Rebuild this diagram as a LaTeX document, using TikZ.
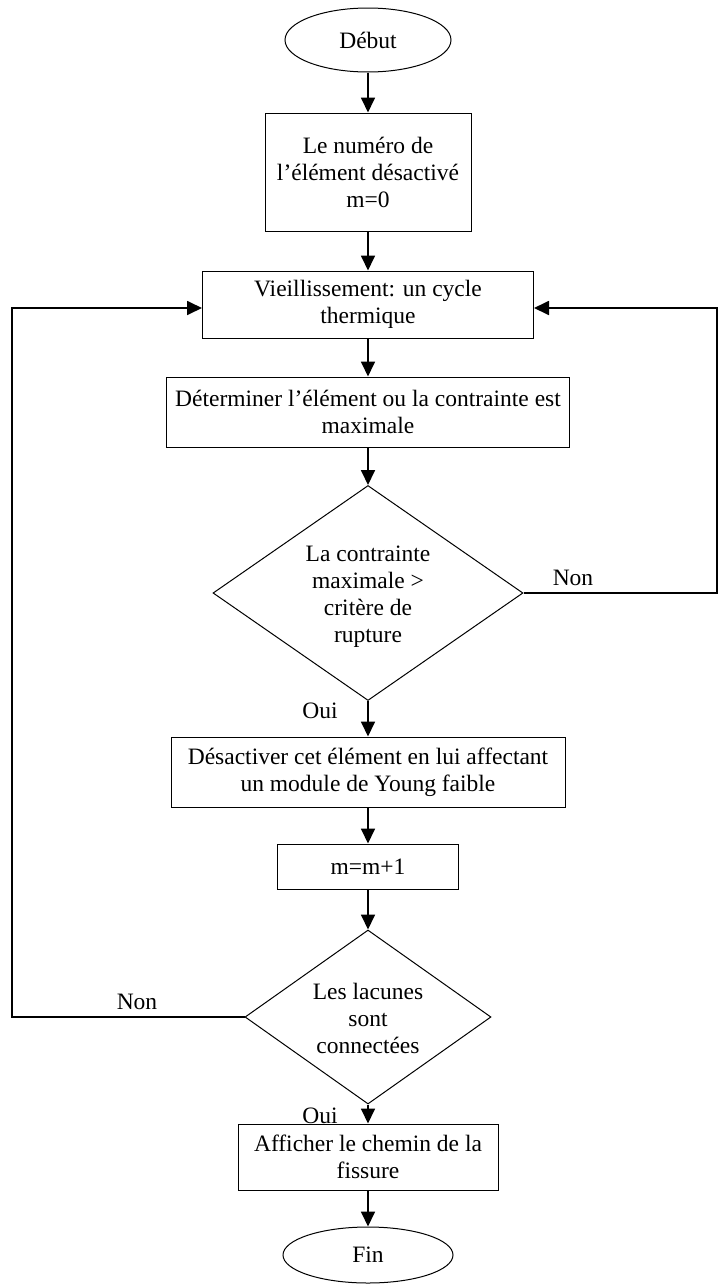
\documentclass[tikz,border=0pt]{standalone}
\usepackage{fontspec}
\setmainfont{Liberation Serif}
\usetikzlibrary{shapes.geometric,arrows.meta}
\newcommand\dtxt[1]{\makebox[0pt]{\raisebox{-10pt}[0pt][0pt]{\begin{tabular}{@{}c@{}}#1\end{tabular}}}}
\begin{document}
\begin{tikzpicture}[x=1pt,y=-1pt,font=\fontsize{23.5}{27}\selectfont,
  box/.style={draw,line width=1pt,rectangle,inner sep=0pt,align=center},
  term/.style={draw,line width=1pt,ellipse,inner sep=0pt},
  dia/.style={draw,line width=1pt,diamond,inner sep=0pt},
  conn/.style={line width=1.8pt},
  arr/.style={conn,-{Triangle[width=14pt,length=15pt]}},
  lbl/.style={inner sep=0pt}]
\useasboundingbox (0,0) rectangle (719,1285);
\node[term,minimum width=166pt,minimum height=64pt] (debut) at (368,40) {Début};
\node[box,minimum width=206pt,minimum height=118pt] (b1) at (368,172) {Le numéro de\\l’élément désactivé\\m=0};
\node[box,minimum width=331pt,minimum height=67pt] (b2) at (368,304.5) {Vieillissement: un cycle\\thermique};
\node[box,minimum width=403pt,minimum height=70pt] (b3) at (368,412) {Déterminer l’élément ou la contrainte est\\maximale};
\node[dia,minimum width=310pt,minimum height=215pt] (d1) at (368,593) {\dtxt{La contrainte\\maximale >\\critère de\\rupture}};
\node[box,minimum width=394pt,minimum height=70pt] (b4) at (368,772) {Désactiver cet élément en lui affectant\\un module de Young faible};
\node[box,minimum width=181pt,minimum height=45pt] (b5) at (368,866.5) {m=m+1};
\node[dia,minimum width=246pt,minimum height=174pt] (d2) at (368,1017) {\dtxt{Les lacunes\\sont\\connectées}};
\node[box,minimum width=260pt,minimum height=66pt] (b6) at (368,1157) {Afficher le chemin de la\\fissure};
\node[term,minimum width=170pt,minimum height=56pt] (fin) at (368,1255) {Fin};
\draw[arr] (debut.south) -- (b1.north);
\draw[arr] (b1.south) -- (b2.north);
\draw[arr] (b2.south) -- (b3.north);
\draw[arr] (b3.south) -- (d1.north);
\draw[arr] (d1.south) -- (b4.north);
\draw[arr] (b4.south) -- (b5.north);
\draw[arr] (b5.south) -- (d2.north);
\draw[arr] (d2.south) -- (b6.north);
\draw[arr] (b6.south) -- (fin.north);
\coordinate (rb) at (717,593);
\coordinate (rt) at (717,308);
\coordinate (lb) at (12,1017);
\coordinate (lt) at (12,308);
\draw[arr] (d1.east) -- (rb) -- (rt) -- (b2.east |- rt);
\draw[arr] (d2.west) -- (lb) -- (lt) -- (b2.west |- lt);
\node[lbl] (non1) at (573,578) {Non};
\node[lbl] (oui1) at (320,711) {Oui};
\node[lbl] (non2) at (137,1002) {Non};
\node[lbl] (oui2) at (320,1116) {Oui};
\end{tikzpicture}
\end{document}
